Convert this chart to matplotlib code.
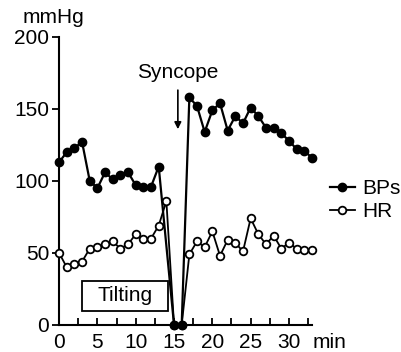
import matplotlib.pyplot as plt
from matplotlib.patches import Rectangle

plt.rcParams['font.family'] = ['Liberation Sans', 'DejaVu Sans']

# systolic blood pressure (mmHg) by minute
bp_min = [0, 1, 2, 3, 4, 5, 6, 7, 8, 9, 10, 11, 12, 13, 15, 16,
          17, 18, 19, 20, 21, 22, 23, 24, 25, 26, 27, 28, 29, 30, 31, 32, 33]
bp_val = [113, 120, 123, 127, 100, 95, 106, 101, 104, 106, 97, 96, 96, 110, 0, 0,
          158, 152, 134, 149, 154, 135, 145, 140, 151, 145, 137, 137, 133, 128, 122, 121, 116]

# heart rate (beats/min)
hr_min = list(range(0, 34))
hr_val = [50, 40, 42, 44, 53, 54, 56, 58, 53, 56, 63, 60, 60, 69, 86, 0, 0,
          49, 58, 54, 65, 48, 59, 57, 51, 74, 63, 56, 62, 53, 57, 53, 52, 52]

fs = 15
fig = plt.figure(figsize=(4.02, 3.52), dpi=100)
ax = fig.add_axes([0.147, 0.077, 0.629, 0.818])

ax.plot(hr_min, hr_val, '-o', color='black', lw=1.3, ms=5.5,
        mfc='white', mew=1.3, label='HR', clip_on=False, zorder=3)
ax.plot(bp_min, bp_val, '-o', color='black', lw=1.6, ms=6,
        label='BPs', clip_on=False, zorder=4)

ax.set_xlim(0, 33)
ax.set_ylim(0, 200)
for s in ['top', 'right']:
    ax.spines[s].set_visible(False)
ax.spines['left'].set_linewidth(1.5)
ax.spines['bottom'].set_linewidth(1.5)

ax.set_yticks([0, 50, 100, 150, 200])
ax.set_xticks([0, 5, 10, 15, 20, 25, 30])
ax.set_xticks([2.5, 7.5, 12.5, 17.5, 22.5, 27.5, 32.5], minor=True)
ax.tick_params(axis='y', direction='out', length=5, width=1.3, labelsize=fs, pad=2)
ax.tick_params(axis='x', which='both', direction='in', length=5, width=1.3,
               labelsize=fs, pad=6)

ax.text(-4.8, 210, 'mmHg', fontsize=fs, ha='left', va='baseline')
ax.annotate('min', xy=(33.1, 0), xytext=(0, -6), textcoords='offset points',
            fontsize=fs, ha='left', va='top', annotation_clip=False)

# tilting box
ax.add_patch(Rectangle((3.0, 9.7), 11.2, 21.1, fill=False, lw=1.3, ec='black'))
ax.text(8.6, 20.2, 'Tilting', fontsize=fs, ha='center', va='center')

# syncope arrow
ax.annotate('', xy=(15.5, 134), xytext=(15.5, 165),
            arrowprops=dict(arrowstyle='-|>', color='black', lw=1.2))
ax.text(15.5, 169, 'Syncope', fontsize=fs, ha='center', va='bottom')

h, l = ax.get_legend_handles_labels()
ax.legend(h[::-1], l[::-1], loc='center left', bbox_to_anchor=(1.07, 0.434),
          frameon=False, fontsize=fs, handlelength=1.2, handletextpad=0.35,
          labelspacing=0.2, borderaxespad=0, borderpad=0)

fig.savefig('out.png', dpi=100)
